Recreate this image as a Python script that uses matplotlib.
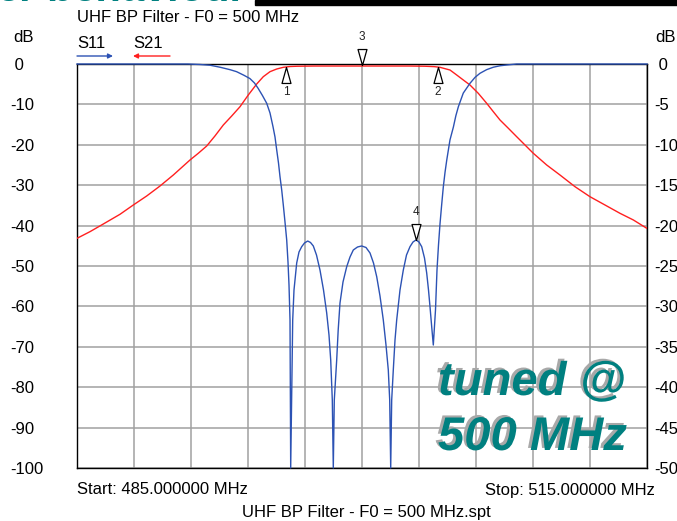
import numpy as np
import matplotlib
matplotlib.use('Agg')
import matplotlib.pyplot as plt
from matplotlib import patheffects as pe
from matplotlib.patches import Rectangle, FancyArrowPatch

plt.rcParams['font.family'] = ['Liberation Sans', 'DejaVu Sans']

# ---------------- data ----------------
f_start, f_stop = 485.0, 515.0
x_grid = [485, 488, 491, 494, 497, 500, 503, 506, 509, 512, 515]

left_ticks = [0, -10, -20, -30, -40, -50, -60, -70, -80, -90, -100]
left_labels = [' 0', '-10', '-20', '-30', '-40', '-50', '-60', '-70', '-80', '-90', '-100']
right_ticks = [0, -5, -10, -15, -20, -25, -30, -35, -40, -45, -50]
right_labels = [' 0', '-5', '-10', '-15', '-20', '-25', '-30', '-35', '-40', '-45', '-50']

# S21 (left axis, dB)
s21_freq = [485.0, 485.684, 486.386, 487.263, 487.963, 488.668, 489.368, 490.068, 490.947, 491.384,
            491.826, 492.263, 492.7, 493.142, 493.579, 494.016, 494.458, 494.805, 495.158, 495.511,
            495.858, 496.211, 496.6, 497.5, 498.5, 499.5, 500.5, 501.5, 502.5, 503.3,
            503.8, 504.105, 504.632, 504.984, 505.332, 505.684, 506.121, 506.563, 506.911, 507.263,
            507.7, 508.142, 508.579, 509.016, 509.721, 510.421, 511.211, 512.0, 512.789, 513.579,
            514.279, 515.0]
s21_db = [-43.15, -41.5, -39.6, -37.2, -34.9, -32.67, -30.2, -27.48, -23.76, -22.1,
          -20.3, -17.8, -15.1, -12.87, -10.57, -7.67, -4.95, -3.14, -1.9, -1.24,
          -0.82, -0.62, -0.55, -0.5, -0.5, -0.5, -0.5, -0.5, -0.5, -0.55,
          -0.65, -0.82, -1.49, -2.72, -3.96, -5.2, -7.26, -9.73, -11.8, -13.86,
          -15.9, -18.0, -20.05, -22.1, -25.0, -27.48, -30.37, -32.85, -34.9, -36.96,
          -38.6, -40.7]

# S11 (right axis, dB)
s11_freq = [485.0, 490.84, 491.47, 492.0, 492.53, 493.05, 493.4, 493.79, 494.1, 494.34,
            494.53, 494.76, 494.984, 495.158, 495.316, 495.421, 495.511, 495.605, 495.684, 495.774,
            495.858, 495.947, 496.037, 496.105, 496.158, 496.211, 496.247,
            496.353, 496.421, 496.563, 496.684, 496.826, 496.974, 497.142, 497.289, 497.437, 497.605,
            497.789, 497.974, 498.142, 498.263, 498.353, 498.437, 498.489,
            498.542, 498.668, 498.747, 498.842, 499.0, 499.195, 499.368, 499.542, 499.763, 499.984,
            500.211, 500.421, 500.605, 500.774, 500.947, 501.121, 501.263, 501.384, 501.458, 501.511,
            501.563, 501.647, 501.737, 501.826, 502.0, 502.174, 502.342, 502.526, 502.684, 502.842,
            503.0, 503.142, 503.289, 503.405, 503.5, 503.579, 503.674, 503.753,
            503.868, 503.947, 504.026, 504.105, 504.19, 504.28, 504.37, 504.46, 504.63, 504.81,
            504.94, 505.07, 505.33, 505.68, 505.95, 506.21, 506.56, 506.91, 507.26, 507.62,
            508.14, 515.0]
s11_db = [0.0, 0.0, -0.06, -0.15, -0.4, -0.7, -0.95, -1.4, -1.8, -2.35,
          -3.0, -3.9, -4.86, -6.06, -7.76, -9.03, -10.64, -12.25, -13.94, -15.59,
          -17.45, -19.55, -21.78, -24.5, -27.35, -31.68, -50.0,
          -31.68, -27.97, -24.63, -23.27, -22.61, -22.15, -21.91, -22.09, -22.52, -23.64,
          -25.5, -27.97, -30.82, -33.54, -36.63, -41.58, -50.0,
          -41.58, -36.63, -32.92, -29.58, -26.98, -25.09, -23.89, -23.02, -22.65, -22.52,
          -22.71, -23.39, -24.63, -26.32, -28.71, -31.68, -34.78, -37.87, -41.58, -50.0,
          -41.58, -37.87, -34.16, -31.68, -27.97, -25.5, -23.64, -22.61, -22.03, -21.78,
          -22.03, -22.61, -24.01, -25.87, -27.97, -30.04, -32.67, -34.78,
          -30.45, -25.5, -22.4, -19.8, -17.5, -15.2, -13.4, -11.9, -9.4, -7.8,
          -6.4, -5.3, -3.6, -2.4, -1.65, -1.15, -0.7, -0.4, -0.22, -0.12,
          0.0, 0.0]

# markers: 1..3 on S21 (left axis), 4 on S11 (right axis)
mk_ids = ['1', '2', '3', '4']
mk_freq = [496.0, 504.0, 500.0, 502.84]
mk_db = [-0.67, -0.67, -0.25, -21.8]

# ---------------- figure ----------------
W, H = 677, 521
fig = plt.figure(figsize=(W / 100, H / 100), dpi=100)


def fx(x):
    return x / W


def fy(y):
    return (H - y) / H


ax = fig.add_axes([fx(77), fy(468), (647 - 77) / W, (468 - 64) / H])
ax.set_xlim(f_start, f_stop)
ax.set_ylim(-100, 0)
ax.set_xticks(x_grid)
ax.set_xticklabels([])
ax.set_yticks(left_ticks)
ax.set_yticklabels(left_labels, ha='left', fontsize=12)
ax.tick_params(axis='both', length=0)
ax.tick_params(axis='y', pad=67 * 0.72)
ax.grid(True, color='#a0a0a0', lw=1.1)
for s in ax.spines.values():
    s.set_color('black')
    s.set_linewidth(1.0)

ax2 = ax.twinx()
ax2.set_ylim(-50, 0)
ax2.set_yticks(right_ticks)
ax2.set_yticklabels(right_labels, ha='left', fontsize=12)
ax2.tick_params(axis='y', length=0, pad=7 * 0.72)
for s in ax2.spines.values():
    s.set_visible(False)

red = '#ff1f1f'
blue = '#2c52b4'

ax.plot(s21_freq, s21_db, color=red, lw=1.0, zorder=3)
ax2.plot(s11_freq, s11_db, color=blue, lw=1.0, clip_on=False, zorder=3)

up_tri = [(0, 0), (-0.28, -1), (0.28, -1), (0, 0)]
dn_tri = [(0, 0), (-0.28, 1), (0.28, 1), (0, 0)]
for i, (mid, f, d) in enumerate(zip(mk_ids, mk_freq, mk_db)):
    target = ax2 if i == 3 else ax
    up = mid in ('1', '2')
    target.plot([f], [d], marker=up_tri if up else dn_tri, ms=23, mfc='white',
                mec='black', mew=0.9, clip_on=False, zorder=5)
    off = -18.5 if up else 20.5
    target.annotate(mid, (f, d), xytext=(0, off), textcoords='offset points',
                    ha='center', va='center', fontsize=8.5, color='#222222',
                    annotation_clip=False, zorder=6)

# texts
fig.text(fx(77), fy(18), 'UHF BP Filter - F0 = 500 MHz', ha='left', va='center', fontsize=12)
fig.text(fx(13), fy(38), 'dB', ha='left', va='center', fontsize=12)
fig.text(fx(655), fy(38), 'dB', ha='left', va='center', fontsize=12)
fig.text(fx(77), fy(44), 'S11', ha='left', va='center', fontsize=12)
fig.text(fx(133), fy(44), 'S21', ha='left', va='center', fontsize=12)
fig.text(fx(77), fy(490), 'Start: 485.000000 MHz', ha='left', va='center', fontsize=12)
fig.text(fx(655), fy(490), 'Stop: 515.000000 MHz', ha='right', va='center', fontsize=12)
fig.text(fx(366), fy(513), 'UHF BP Filter - F0 = 500 MHz.spt', ha='center', va='center', fontsize=12)

fig.add_artist(FancyArrowPatch((fx(77), fy(56)), (fx(113), fy(56)),
               transform=fig.transFigure, arrowstyle='-|>', mutation_scale=7,
               color=blue, lw=1.0, shrinkA=0, shrinkB=0))
fig.add_artist(FancyArrowPatch((fx(170), fy(56)), (fx(133), fy(56)),
               transform=fig.transFigure, arrowstyle='-|>', mutation_scale=7,
               color=red, lw=1.0, shrinkA=0, shrinkB=0))

# big annotation
teal = '#008080'
shadow = [pe.withSimplePatchShadow(offset=(-2, 1.5), shadow_rgbFace='#a8a8a8', alpha=1.0)]
fig.text(fx(438), fy(395), 'tuned @', ha='left', va='baseline', fontsize=34,
         fontweight='bold', style='italic', color=teal, path_effects=shadow)
fig.text(fx(438), fy(450), '500 MHz', ha='left', va='baseline', fontsize=34,
         fontweight='bold', style='italic', color=teal, path_effects=shadow)

# top banner fragment
fig.add_artist(Rectangle((fx(255), fy(5)), 1, 5 / H, transform=fig.transFigure,
                         color='black', zorder=0))
fig.text(fx(248), fy(1), 'filter behaviour', ha='right', va='baseline', fontsize=30,
         fontweight='bold', style='italic', color=teal)

fig.savefig('out.png', dpi=100)
